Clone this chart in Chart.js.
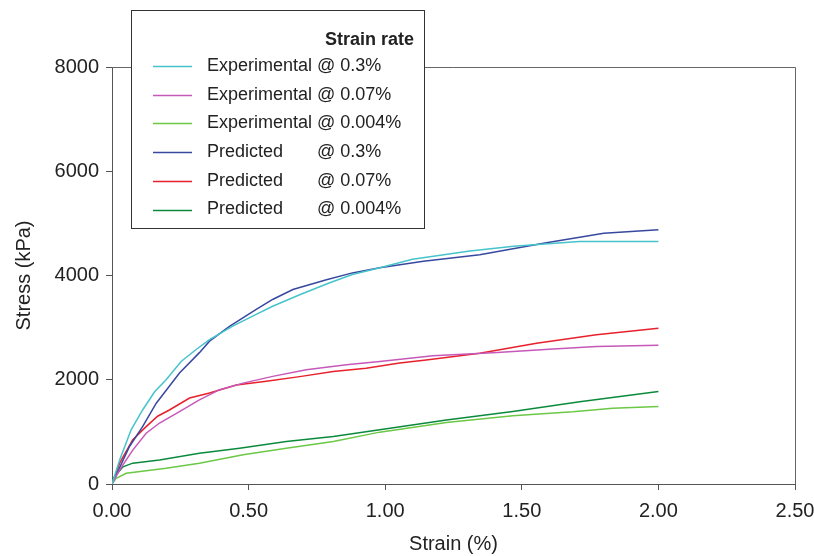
<html>
<head>
    <meta charset="utf-8" />
    <script src="https://cdn.jsdelivr.net/npm/chart.js@4.4.0/dist/chart.umd.min.js"></script>
    <title>Stress vs strain</title>
    <style>
        body { margin: 0; background: #fff; }
    </style>
</head>
<body>
    <canvas id="chart" width="814" height="556"></canvas>
    <script>
        // tick values
        const xTicks = [0, 0.5, 1.0, 1.5, 2.0, 2.5];
        const yTicks = [0, 2000, 4000, 6000, 8000];

        const seriesNames = ["Experimental", "Experimental", "Experimental", "Predicted", "Predicted", "Predicted"];
        const rates = ["@ 0.3%", "@ 0.07%", "@ 0.004%", "@ 0.3%", "@ 0.07%", "@ 0.004%"];
        const colors = ["#46c3cb", "#c658b9", "#6cc846", "#3848a0", "#e8202c", "#0b8a3c"];

        // experimental 0.3%
        const exp03Strain = [0, 0.028, 0.07, 0.112, 0.156, 0.198, 0.253, 0.308, 0.357, 0.44, 0.515, 0.588, 0.687, 0.797, 0.88, 0.98, 1.10, 1.31, 1.47, 1.71, 2.0];
        const exp03Stress = [0, 460, 1040, 1420, 1770, 2000, 2350, 2580, 2770, 3025, 3220, 3410, 3630, 3860, 4020, 4150, 4310, 4470, 4560, 4650, 4650];
        // experimental 0.07%
        const exp007Strain = [0, 0.028, 0.076, 0.125, 0.174, 0.247, 0.32, 0.394, 0.48, 0.588, 0.711, 0.858, 0.98, 1.175, 1.41, 1.615, 1.773, 2.0];
        const exp007Stress = [0, 270, 650, 975, 1170, 1390, 1615, 1810, 1935, 2065, 2190, 2290, 2350, 2460, 2525, 2590, 2640, 2660];
        // experimental 0.004%
        const exp0004Strain = [0, 0.015, 0.052, 0.198, 0.32, 0.48, 0.638, 0.81, 0.98, 1.224, 1.467, 1.687, 1.833, 2.0];
        const exp0004Stress = [0, 110, 205, 300, 400, 560, 685, 815, 995, 1180, 1310, 1385, 1455, 1485];
        // predicted 0.3%
        const pre03Strain = [0, 0.064, 0.112, 0.162, 0.247, 0.32, 0.357, 0.43, 0.528, 0.588, 0.662, 0.785, 0.88, 0.98, 1.14, 1.346, 1.59, 1.80, 2.0];
        const pre03Stress = [0, 720, 1100, 1550, 2130, 2520, 2740, 3025, 3350, 3540, 3730, 3920, 4050, 4150, 4275, 4400, 4630, 4810, 4880];
        // predicted 0.07%
        const pre007Strain = [0, 0.028, 0.076, 0.125, 0.167, 0.21, 0.284, 0.357, 0.455, 0.565, 0.687, 0.81, 0.93, 1.053, 1.15, 1.346, 1.554, 1.773, 2.0];
        const pre007Stress = [0, 400, 850, 1100, 1300, 1420, 1650, 1745, 1900, 1970, 2060, 2160, 2220, 2320, 2380, 2510, 2700, 2865, 2990];
        // predicted 0.004%
        const pre0004Strain = [0, 0.005, 0.04, 0.076, 0.174, 0.32, 0.467, 0.638, 0.81, 0.98, 1.224, 1.467, 1.712, 2.0];
        const pre0004Stress = [0, 110, 330, 400, 460, 590, 685, 815, 910, 1040, 1230, 1390, 1580, 1775];

        const strains = [exp03Strain, exp007Strain, exp0004Strain, pre03Strain, pre007Strain, pre0004Strain];
        const stresses = [exp03Stress, exp007Stress, exp0004Stress, pre03Stress, pre007Stress, pre0004Stress];

        const FONT = "'Liberation Sans', Arial, Helvetica, sans-serif";

        const datasets = strains.map(function (xs, i) {
            return {
                label: seriesNames[i] + " " + rates[i],
                data: xs.map(function (x, j) { return { x: x, y: stresses[i][j] }; }),
                borderColor: colors[i],
                backgroundColor: colors[i],
                borderWidth: 1.5,
                pointRadius: 0,
                showLine: true,
                tension: 0
            };
        });

        // frame on top/right plus the boxed legend
        const boxPlugin = {
            id: "boxLegend",
            afterDraw: function (chart) {
                const ctx = chart.ctx;
                const a = chart.chartArea;
                ctx.save();
                ctx.strokeStyle = "#666";
                ctx.lineWidth = 1;
                ctx.beginPath();
                ctx.moveTo(a.left, Math.round(a.top) + 0.5);
                ctx.lineTo(Math.round(a.right) + 0.5, Math.round(a.top) + 0.5);
                ctx.lineTo(Math.round(a.right) + 0.5, a.bottom);
                ctx.stroke();

                ctx.fillStyle = "#fff";
                ctx.fillRect(131, 10, 294, 219);
                ctx.strokeStyle = "#333";
                ctx.strokeRect(131.5, 10.5, 293, 218);

                ctx.fillStyle = "#222";
                ctx.font = "bold 18px " + FONT;
                ctx.textAlign = "right";
                ctx.textBaseline = "middle";
                ctx.fillText("Strain rate", 414, 40);

                ctx.font = "18px " + FONT;
                ctx.textAlign = "left";
                for (let i = 0; i < seriesNames.length; i++) {
                    const y = 66 + i * 28.7;
                    ctx.strokeStyle = colors[i];
                    ctx.lineWidth = 1.5;
                    ctx.beginPath();
                    ctx.moveTo(153, Math.round(y) + 0.5);
                    ctx.lineTo(192, Math.round(y) + 0.5);
                    ctx.stroke();
                    ctx.fillStyle = "#222";
                    ctx.fillText(seriesNames[i], 207, y);
                    ctx.fillText(rates[i], 317, y);
                }
                ctx.restore();
            }
        };

        new Chart(document.getElementById("chart"), {
            type: "scatter",
            data: { datasets: datasets },
            plugins: [boxPlugin],
            options: {
                responsive: false,
                animation: false,
                layout: { padding: { top: 67, right: 19, left: 0, bottom: 0 } },
                plugins: {
                    legend: { display: false },
                    tooltip: { enabled: false }
                },
                scales: {
                    x: {
                        type: "linear",
                        min: 0,
                        max: 2.5,
                        afterBuildTicks: function (s) { s.ticks = xTicks.map(function (v) { return { value: v }; }); },
                        afterFit: function (s) { s.height = 72; s.paddingLeft = 0; s.paddingRight = 0; },
                        ticks: {
                            color: "#222",
                            padding: 9,
                            font: { family: FONT, size: 20 },
                            callback: function (v) { return Number(v).toFixed(2); }
                        },
                        grid: { drawOnChartArea: false, drawTicks: true, tickLength: 6, color: "#555" },
                        border: { color: "#555", width: 1 },
                        title: {
                            display: true,
                            text: "Strain (%)",
                            color: "#222",
                            font: { family: FONT, size: 20 },
                            padding: { top: 0, bottom: 0 }
                        }
                    },
                    y: {
                        type: "linear",
                        min: 0,
                        max: 8000,
                        afterBuildTicks: function (s) { s.ticks = yTicks.map(function (v) { return { value: v }; }); },
                        afterFit: function (s) { s.width = 112; s.paddingTop = 0; s.paddingBottom = 0; },
                        ticks: {
                            color: "#222",
                            padding: 7,
                            font: { family: FONT, size: 20 },
                            callback: function (v) { return String(v); }
                        },
                        grid: { drawOnChartArea: false, drawTicks: true, tickLength: 6, color: "#555" },
                        border: { color: "#555", width: 1 },
                        title: {
                            display: true,
                            text: "Stress (kPa)",
                            color: "#222",
                            font: { family: FONT, size: 20 },
                            padding: { top: 12, bottom: 0 }
                        }
                    }
                }
            }
        });
    </script>
</body>
</html>
